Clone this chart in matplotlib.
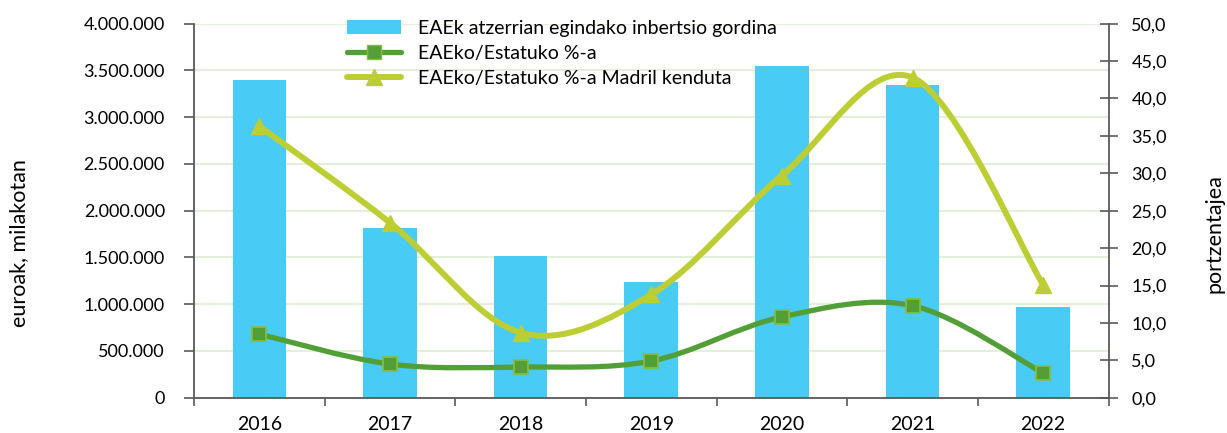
import matplotlib
matplotlib.use("Agg")
import matplotlib.pyplot as plt
from matplotlib.path import Path
from matplotlib.patches import PathPatch, Patch
from matplotlib.lines import Line2D
from matplotlib.ticker import FuncFormatter, FixedLocator
import numpy as np

plt.rcParams['font.family'] = ['Lato', 'DejaVu Sans']

years = ['2016', '2017', '2018', '2019', '2020', '2021', '2022']
inversion = [3395000, 1815000, 1516000, 1237000, 3548000, 3341000, 970000]
pct_estado = [8.5, 4.5, 4.1, 4.9, 10.8, 12.3, 3.3]
pct_sin_madrid = [36.3, 23.4, 8.7, 13.8, 29.7, 42.8, 15.1]

label_bar = 'EAEk atzerrian egindako inbertsio gordina'
label_l1 = 'EAEko/Estatuko %-a'
label_l2 = 'EAEko/Estatuko %-a Madril kenduta'
ylabel_left = 'euroak, milakotan'
ylabel_right = 'portzentajea'

c_bar = '#48CBF5'
c_green = '#529E37'
c_green_edge = '#86BC3E'
c_lime = '#BDCD34'
c_axis = '#595959'
c_grid = '#E2F0D9'

W, H = 1227, 433
fig = plt.figure(figsize=(W/100, H/100), dpi=100)
ax = fig.add_axes([194/W, 1-397.7/H, (1108.5-194)/W, (397.7-23.7)/H])
ax2 = ax.twinx()

x = np.arange(len(years))
ax.bar(x, inversion, width=0.41, color=c_bar, zorder=2)
ax.set_xlim(-0.5, len(years)-0.5)
ax.set_ylim(0, 4000000)
ax.set_yticks(np.arange(0, 4000001, 500000))
ax.yaxis.set_major_formatter(FuncFormatter(lambda v, p: f"{int(v):,}".replace(',', '.')))
ax.grid(axis='y', color=c_grid, linewidth=1.5, zorder=0)
ax.set_axisbelow(True)

ax.set_xticks(x)
ax.set_xticklabels(years)
ax.xaxis.set_minor_locator(FixedLocator(np.arange(-0.5, len(years), 1.0)))
ax.tick_params(axis='x', which='major', length=0, pad=13, labelsize=14, labelcolor='black')
ax.tick_params(axis='x', which='minor', length=6, width=1.2, color=c_axis, direction='out')
ax.tick_params(axis='y', length=7, width=1.2, color=c_axis, labelsize=13, pad=14)

for s in ['top', 'right']:
    ax.spines[s].set_visible(False)
for s in ['left', 'bottom']:
    ax.spines[s].set_color(c_axis)
    ax.spines[s].set_linewidth(1.3)

ax2.set_ylim(0, 50)
ax2.set_yticks(np.arange(0, 50.1, 5))
ax2.yaxis.set_major_formatter(FuncFormatter(lambda v, p: f"{v:.1f}".replace('.', ',')))
ax2.tick_params(axis='y', length=13, width=1.2, color=c_axis, direction='inout', labelsize=13, pad=10)
for s in ['top', 'left', 'bottom']:
    ax2.spines[s].set_visible(False)
ax2.spines['right'].set_color(c_axis)
ax2.spines['right'].set_linewidth(1.3)


def smooth_path(xs, ys):
    pts = np.column_stack([xs, ys]).astype(float)
    n = len(pts)
    verts = [pts[0]]
    codes = [Path.MOVETO]
    for i in range(n - 1):
        p0 = pts[i - 1] if i > 0 else pts[i]
        p1 = pts[i]
        p2 = pts[i + 1]
        p3 = pts[i + 2] if i + 2 < n else pts[i + 1]
        c1 = p1 + (p2 - p0) / 6.0
        c2 = p2 - (p3 - p1) / 6.0
        verts += [c1, c2, p2]
        codes += [Path.CURVE4] * 3
    return Path(verts, codes)


ax2.add_patch(PathPatch(smooth_path(x, pct_estado), facecolor='none', edgecolor=c_green,
                        linewidth=3.8, capstyle='round', zorder=3))
ax2.plot(x, pct_estado, linestyle='none', marker='s', markersize=10,
         markerfacecolor=c_green, markeredgecolor=c_green_edge, markeredgewidth=1.3, zorder=4)
ax2.add_patch(PathPatch(smooth_path(x, pct_sin_madrid), facecolor='none', edgecolor=c_lime,
                        linewidth=4.3, capstyle='round', zorder=3))
ax2.plot(x, pct_sin_madrid, linestyle='none', marker='^', markersize=11,
         markerfacecolor=c_lime, markeredgecolor=c_lime, zorder=4)

fig.text(19/W, 1-243/H, ylabel_left, rotation=90, ha='center', va='center', fontsize=15.5)
fig.text(1214/W, 1-234/H, ylabel_right, rotation=90, ha='center', va='center', fontsize=15.5)

handles = [
    Patch(facecolor=c_bar, edgecolor='none'),
    Line2D([], [], color=c_green, linewidth=3.8, marker='s', markersize=10,
           markerfacecolor=c_green, markeredgecolor=c_green_edge, solid_capstyle='round'),
    Line2D([], [], color=c_lime, linewidth=4.3, marker='^', markersize=11,
           markerfacecolor=c_lime, markeredgecolor=c_lime, solid_capstyle='round'),
]
leg = fig.legend(handles, [label_bar, label_l1, label_l2], loc='upper left',
                 bbox_to_anchor=(339/W, 1-12/H), frameon=False, fontsize=14,
                 borderaxespad=0, borderpad=0.4,
                 handlelength=2.8, handleheight=0.75, handletextpad=0.87, labelspacing=0.42)

fig.savefig('out.png', dpi=100)
